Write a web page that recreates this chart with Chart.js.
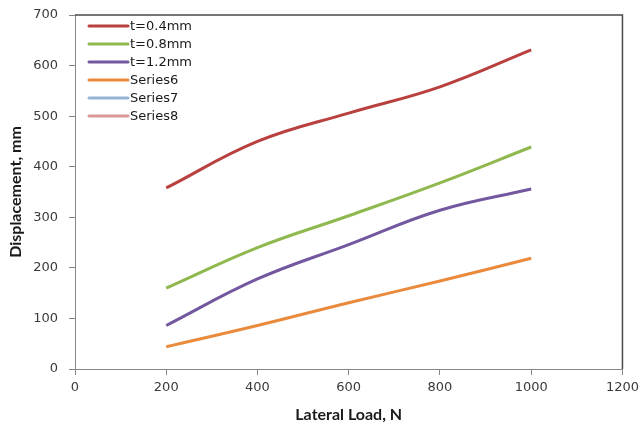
<!DOCTYPE html>
<html>
<head>
<meta charset="utf-8">
<script src="https://cdn.jsdelivr.net/npm/chart.js@4"></script>
<style>
  html, body { margin: 0; padding: 0; background: #fff; }
  #wrap { width: 644px; height: 427px; position: relative; }
</style>
</head>
<body>
<div id="wrap"><canvas id="chart"></canvas></div>
<script>
// lateral load (N) and displacement (mm)
const loads = [200, 400, 600, 800, 1000];
const disp04 = [358, 450, 506, 558, 631];
const disp08 = [160, 240, 303, 368, 439];
const disp12 = [86, 178, 246, 314, 356];
const series6 = [44, 86, 131, 174, 219];
const series7 = [];
const series8 = [];
const seriesNames = ['t=0.4mm', 't=0.8mm', 't=1.2mm', 'Series6', 'Series7', 'Series8'];
const seriesColors = ['#b8413f', '#8fb84e', '#7358a0', '#ea8a3c', '#95b3d7', '#d99795'];
const xTicks = [0, 200, 400, 600, 800, 1000, 1200];
const yTicks = [0, 100, 200, 300, 400, 500, 600, 700];

function pts(vals) {
  return vals.map((v, i) => ({ x: loads[i], y: v }));
}

const allSeries = [disp04, disp08, disp12, series6, series7, series8];
const datasets = allSeries.map((vals, i) => ({
  label: seriesNames[i],
  data: pts(vals),
  borderColor: seriesColors[i],
  backgroundColor: seriesColors[i],
  borderWidth: 3,
  pointRadius: 0,
  tension: 0.4,
  fill: false
}));

// legend in the top-left corner of the plot, one entry per row
const cornerLegend = {
  id: 'cornerLegend',
  afterDraw(chart) {
    const ctx = chart.ctx;
    const area = chart.chartArea;
    ctx.save();
    ctx.font = '13px "DejaVu Sans"';
    ctx.textBaseline = 'middle';
    chart.data.datasets.forEach((ds, i) => {
      const y = area.top + 11 + i * 18;
      const x = area.left + 14;
      ctx.strokeStyle = ds.borderColor;
      ctx.lineWidth = 3;
      ctx.lineCap = 'round';
      ctx.beginPath();
      ctx.moveTo(x, y);
      ctx.lineTo(x + 39, y);
      ctx.stroke();
      ctx.fillStyle = '#1a1a1a';
      ctx.fillText(ds.label, x + 41, y + 1);
    });
    ctx.restore();
  }
};

// darker frame on top and right of the plot
const plotFrame = {
  id: 'plotFrame',
  afterDatasetsDraw(chart) {
    const ctx = chart.ctx;
    const a = chart.chartArea;
    ctx.save();
    ctx.strokeStyle = '#4a4a4a';
    ctx.lineWidth = 1.5;
    ctx.beginPath();
    ctx.moveTo(a.left, a.top);
    ctx.lineTo(a.right, a.top);
    ctx.lineTo(a.right, a.bottom);
    ctx.stroke();
    ctx.restore();
  }
};

new Chart(document.getElementById('chart'), {
  type: 'line',
  data: { datasets },
  options: {
    responsive: true,
    maintainAspectRatio: false,
    animation: false,
    layout: { padding: { top: 15, right: 21, left: 0, bottom: 0 } },
    plugins: { legend: { display: false }, tooltip: { enabled: false } },
    scales: {
      x: {
        type: 'linear',
        min: 0, max: 1200,
        afterBuildTicks: (s) => { s.ticks = xTicks.map(v => ({ value: v })); },
        afterFit: (s) => { s.height = 58; },
        grid: { drawOnChartArea: false, drawTicks: true, tickLength: 6, color: '#868686' },
        border: { display: true, color: '#868686', width: 1 },
        ticks: { color: '#3a3a3a', font: { family: 'DejaVu Sans', size: 13 }, padding: 5, maxRotation: 0, callback: (v) => String(v) },
        title: { display: true, text: 'Lateral Load, N', color: '#1a1a1a', font: { family: 'Lato', size: 16, weight: 'bold' }, padding: { top: 0, bottom: 3 } }
      },
      y: {
        min: 0, max: 700,
        afterBuildTicks: (s) => { s.ticks = yTicks.map(v => ({ value: v })); },
        afterFit: (s) => { s.width = 75; s.paddingTop = 0; s.paddingBottom = 0; },
        grid: { drawOnChartArea: false, drawTicks: true, tickLength: 6, color: '#868686' },
        border: { display: true, color: '#868686', width: 1 },
        ticks: { color: '#3a3a3a', font: { family: 'DejaVu Sans', size: 13, lineHeight: 1 }, padding: 11, callback: (v) => String(v) },
        title: { display: true, text: 'Displacement, mm', color: '#1a1a1a', font: { family: 'Lato', size: 16, weight: 'bold' }, padding: { top: 6, bottom: 0 } }
      }
    }
  },
  plugins: [cornerLegend, plotFrame]
});
</script>
</body>
</html>
